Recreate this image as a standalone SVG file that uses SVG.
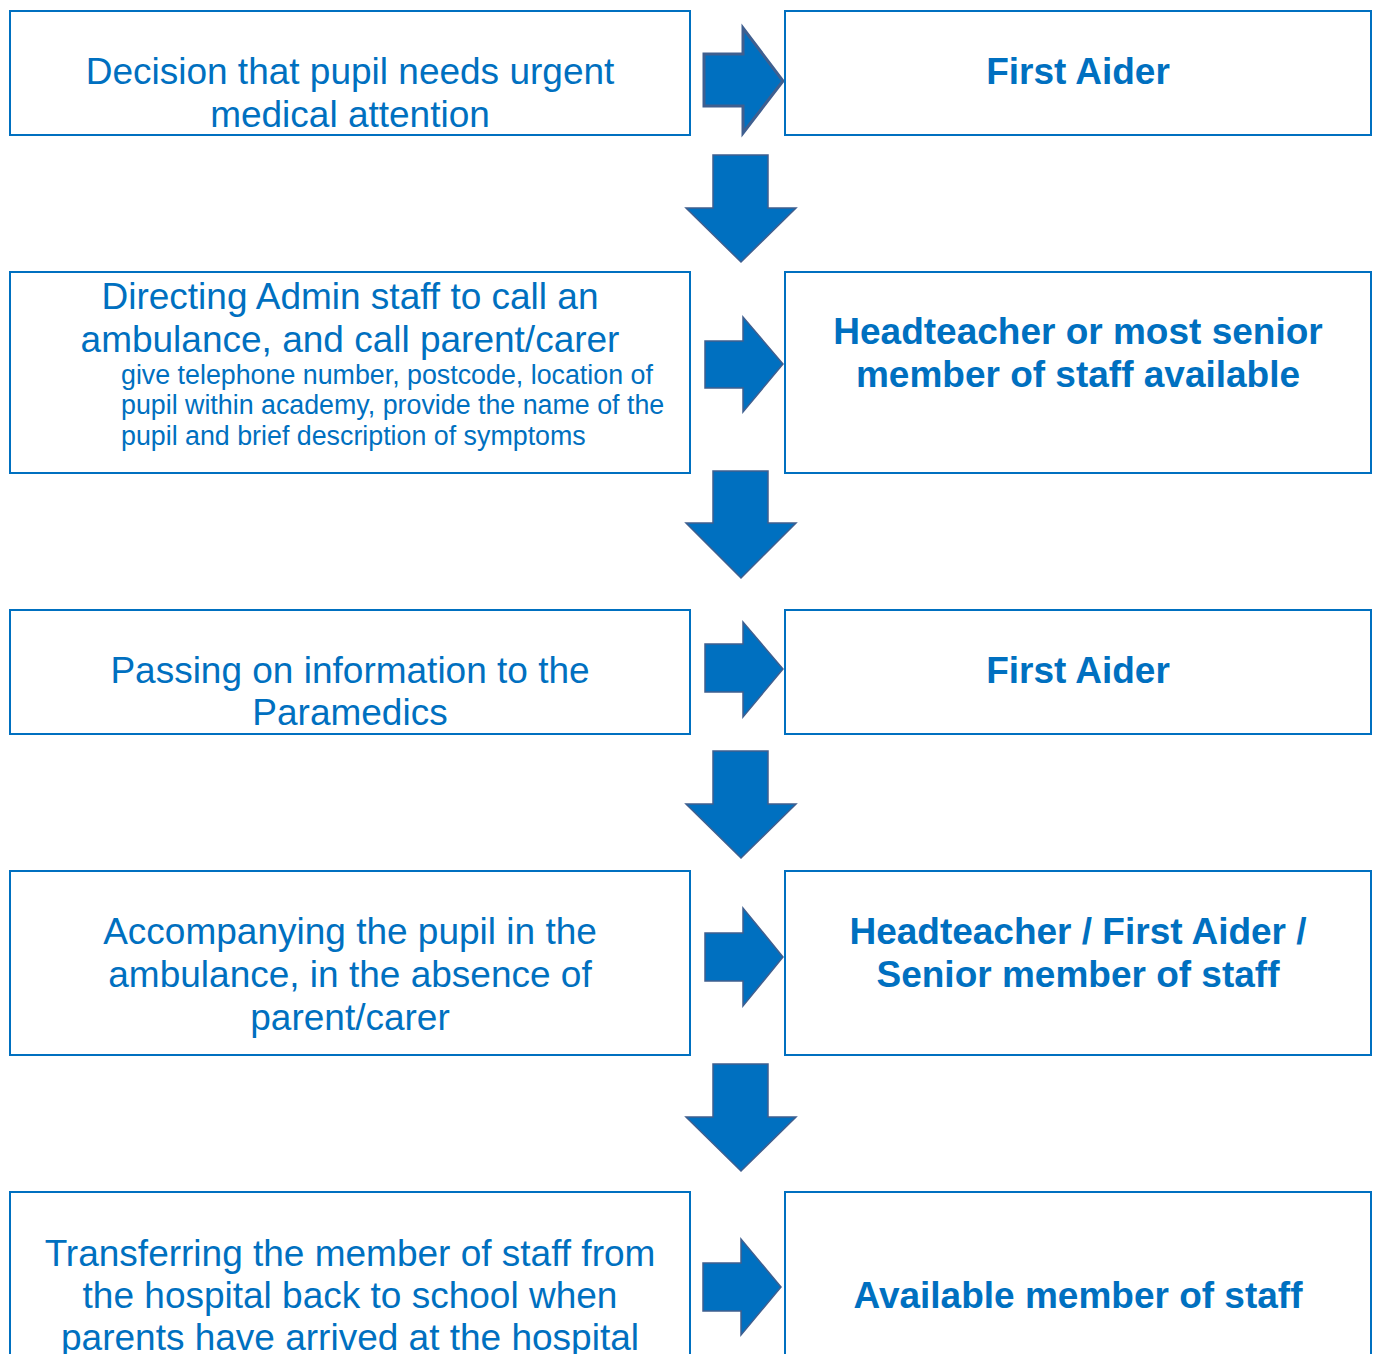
<svg xmlns="http://www.w3.org/2000/svg" width="1376" height="1354" viewBox="0 0 1376 1354">
<style>
.box{fill:#ffffff;stroke:#0070c0;stroke-width:2}
.t{font-family:"Liberation Sans",Arial,sans-serif;font-size:37px;fill:#0070c0;text-anchor:middle}
.b{font-weight:bold}
.s{font-family:"Liberation Sans",Arial,sans-serif;font-size:26.8px;fill:#0070c0}
.arr{fill:#0070c0;stroke:#3f5f8f;stroke-width:1.5;stroke-linejoin:miter}
</style>
<rect width="1376" height="1354" fill="#ffffff"/>
<g id="connectors">
<path class="arr" style="stroke-width:3" d="M704,54 H743 V28 L783,81 L743,133 V106 H704 Z"/>
<path class="arr" d="M705,341 H743 V317 L783,364 L743,412 V388 H705 Z"/>
<path class="arr" d="M705,644 H743 V622 L783,669 L743,717 V692 H705 Z"/>
<path class="arr" d="M705,933 H743 V908 L783,957 L743,1006 V981 H705 Z"/>
<path class="arr" d="M703,1263 H741 V1239 L781,1287 L741,1335 V1311 H703 Z"/>
<path class="arr" d="M713,155 H768 V208 H796 L741,262 L686,208 H713 Z"/>
<path class="arr" d="M713,471 H768 V523 H796 L741,578 L686,523 H713 Z"/>
<path class="arr" d="M713,751 H768 V804 H796 L741,858 L686,804 H713 Z"/>
<path class="arr" d="M713,1064 H768 V1117 H796 L741,1171 L686,1117 H713 Z"/>
</g>
<g id="n1">
<rect class="box" x="10" y="11" width="680" height="124"/>
<text class="t" x="350" y="84">Decision that pupil needs urgent</text>
<text class="t" x="350" y="127">medical attention</text>
</g>
<g id="n2">
<rect class="box" x="785" y="11" width="586" height="124"/>
<text class="t b" x="1078" y="84">First Aider</text>
</g>
<g id="n3">
<rect class="box" x="10" y="272" width="680" height="201"/>
<text class="t" x="350" y="309">Directing Admin staff to call an</text>
<text class="t" x="350" y="352">ambulance, and call parent/carer</text>
<text class="s" x="121" y="384">give telephone number, postcode, location of</text>
<text class="s" x="121" y="414">pupil within academy, provide the name of the</text>
<text class="s" x="121" y="445">pupil and brief description of symptoms</text>
</g>
<g id="n4">
<rect class="box" x="785" y="272" width="586" height="201"/>
<text class="t b" x="1078" y="344">Headteacher or most senior</text>
<text class="t b" x="1078" y="387">member of staff available</text>
</g>
<g id="n5">
<rect class="box" x="10" y="610" width="680" height="124"/>
<text class="t" x="350" y="683">Passing on information to the</text>
<text class="t" x="350" y="725">Paramedics</text>
</g>
<g id="n6">
<rect class="box" x="785" y="610" width="586" height="124"/>
<text class="t b" x="1078" y="683">First Aider</text>
</g>
<g id="n7">
<rect class="box" x="10" y="871" width="680" height="184"/>
<text class="t" x="350" y="944">Accompanying the pupil in the</text>
<text class="t" x="350" y="987">ambulance, in the absence of</text>
<text class="t" x="350" y="1030">parent/carer</text>
</g>
<g id="n8">
<rect class="box" x="785" y="871" width="586" height="184"/>
<text class="t b" x="1078" y="944">Headteacher / First Aider /</text>
<text class="t b" x="1078" y="987">Senior member of staff</text>
</g>
<g id="n9">
<rect class="box" x="10" y="1192" width="680" height="200"/>
<text class="t" x="350" y="1266">Transferring the member of staff from</text>
<text class="t" x="350" y="1308">the hospital back to school when</text>
<text class="t" x="350" y="1350">parents have arrived at the hospital</text>
</g>
<g id="n10">
<rect class="box" x="785" y="1192" width="586" height="200"/>
<text class="t b" x="1078" y="1308">Available member of staff</text>
</g>
</svg>
